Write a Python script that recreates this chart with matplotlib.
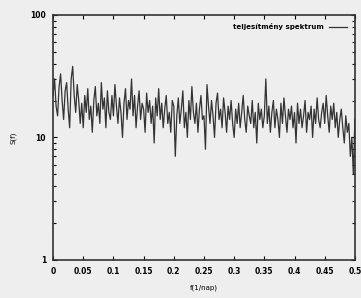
import matplotlib
matplotlib.use("Agg")
import matplotlib.pyplot as plt
import numpy as np

S_values = [
    22, 30, 18, 15, 26, 33, 20, 14, 24, 28, 17, 12, 30, 38, 22, 16, 27, 20, 13, 19,
    12, 22, 16, 25, 14, 18, 11, 20, 26, 15, 19, 13, 28, 17, 21, 12, 24, 16, 14, 22,
    15, 27, 18, 13, 21, 16, 10, 19, 25, 14, 20, 17, 30, 15, 22, 12, 18, 24, 14, 19,
    17, 11, 23, 16, 20, 13, 18, 9, 21, 15, 25, 14, 19, 12, 17, 22, 13, 16, 11, 20,
    18, 7, 15, 21, 13, 17, 24, 12, 16, 10, 20, 14, 26, 16, 13, 19, 11, 17, 22, 14,
    15, 8, 27, 18, 13, 20, 15, 10, 19, 23, 14, 17, 12, 21, 16, 11, 18, 14, 20, 13,
    10, 17, 13, 19, 12, 16, 22, 14, 11, 18, 15, 13, 20, 12, 16, 9, 19, 14, 17, 12,
    15, 30, 13, 18, 11, 16, 20, 12, 17, 14, 10, 19, 13, 21, 15, 11, 17, 14, 18, 12,
    16, 9, 19, 13, 17, 12, 15, 20, 11, 16, 14, 18, 10, 17, 13, 21, 14, 12, 16, 19,
    13, 22, 15, 11, 18, 14, 19, 12, 16, 10, 14, 17, 12, 9, 15, 11, 13, 7, 10, 5, 14,
]
f_max = 0.5
x_ticks = [0, 0.05, 0.1, 0.15, 0.2, 0.25, 0.3, 0.35, 0.4, 0.45, 0.5]
x_ticklabels = ["0", "0.05", "0.1", "0.15", "0.2", "0.25", "0.3", "0.35", "0.4", "0.45", "0.5"]
y_ticks = [1, 10, 100]
y_ticklabels = ["1", "10", "100"]
legend_label = "teljesítmény spektrum"
x_label = "f(1/nap)"
y_label = "S(f)"

freqs = np.linspace(0, f_max, len(S_values))

fig = plt.figure(figsize=(3.61, 2.98), dpi=100, facecolor="#eeeeee")
ax = fig.add_axes([0.147, 0.128, 0.836, 0.822])
ax.set_facecolor("#eeeeee")
ax.plot(freqs, S_values, color="#333333", lw=0.9, label=legend_label)
ax.set_yscale("log")
ax.set_ylim(1, 100)
ax.set_xlim(0, 0.5)
ax.set_xticks(x_ticks)
ax.set_xticklabels(x_ticklabels, fontsize=5.5, fontweight="bold")
ax.set_yticks(y_ticks)
ax.set_yticklabels(y_ticklabels, fontsize=5.5, fontweight="bold")
ax.tick_params(direction="in", top=True, right=True, which="both", length=3, width=0.8, pad=5)
ax.tick_params(which="minor", length=2)
for s in ax.spines.values():
    s.set_linewidth(1.2)
    s.set_color("#333333")
ax.set_xlabel(x_label, fontsize=5, labelpad=6)
ax.set_ylabel(y_label, fontsize=5, labelpad=10)
leg = ax.legend(loc="upper right", frameon=False, fontsize=5, handlelength=2.5,
                prop={"weight": "bold", "size": 5}, markerfirst=False, borderaxespad=0.8)
fig.savefig("out.png", dpi=100, facecolor=fig.get_facecolor())
